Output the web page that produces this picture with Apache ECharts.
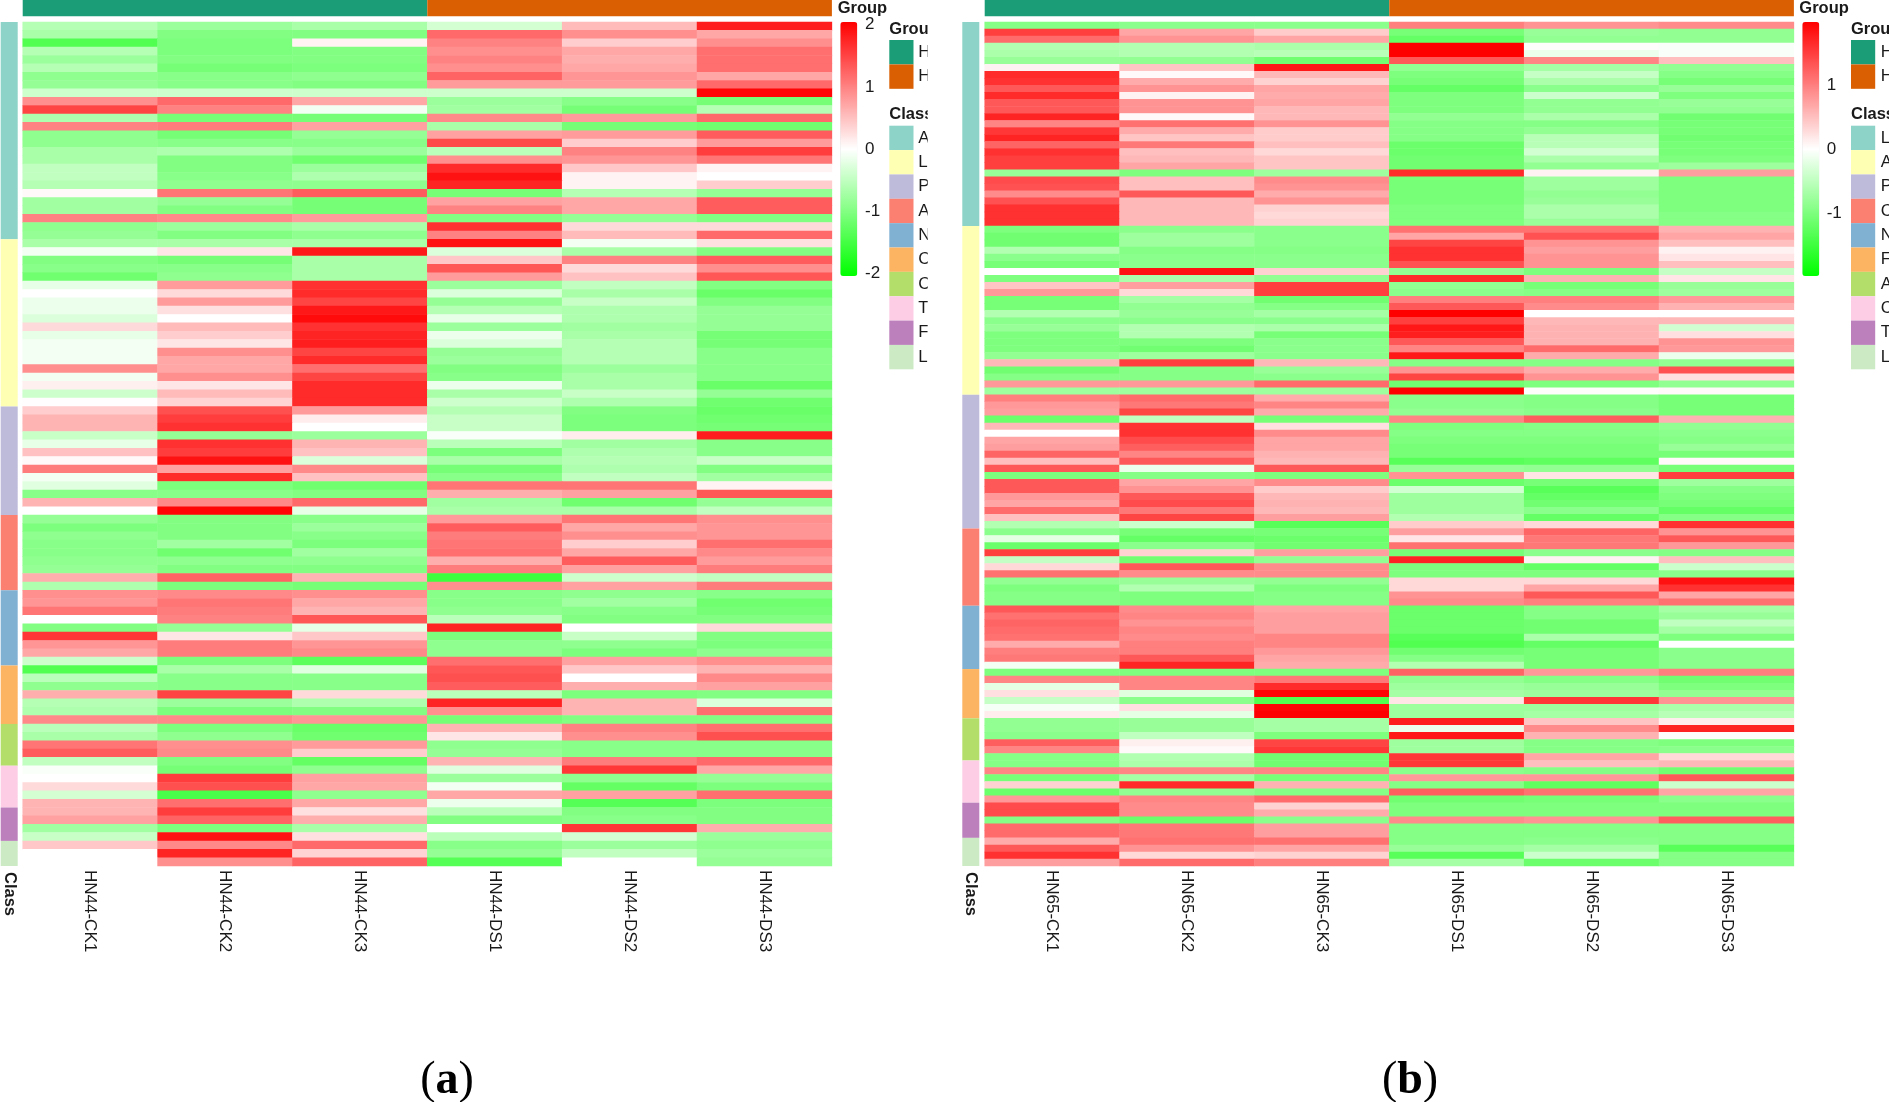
<!DOCTYPE html>
<html><head><meta charset="utf-8">
<style>html,body{margin:0;padding:0;background:#fff;overflow:hidden}#c{width:1889px;height:1102px}</style>
<script src="https://cdn.jsdelivr.net/npm/echarts@6/dist/echarts.min.js"></script>
</head><body><div id="c"></div>
<script>
const samplesA=['HN44-CK1','HN44-CK2','HN44-CK3','HN44-DS1','HN44-DS2','HN44-DS3'];
const samplesB=['HN65-CK1','HN65-CK2','HN65-CK3','HN65-DS1','HN65-DS2','HN65-DS3'];
const groupSizes=[3,3];
const groupLetters=['H','H'];
const classLettersA=['A','L','P','A','N','C','C','T','F','L'];
const classLettersB=['L','A','P','C','N','F','A','C','T','L'];
const classCountsA=[26,20,13,9,9,7,5,5,4,3];
const classCountsB=[29,24,19,11,9,7,6,6,5,4];
const ticksA=[2,1,0,-1,-2];
const ticksB=[1,0,-1];
const valuesA=[
[-0.6,-0.8,-0.7,-0.35,0.55,1.8],[-0.7,-1,-1,1.2,0.9,0.7],[-1.4,-1.05,0.1,1,0.4,0.9],[-0.6,-1.05,-1,0.9,0.7,1.15],[-0.8,-1,-1,1,0.65,1.15],[-0.6,-1.1,-1.05,0.9,0.7,1.15],[-0.9,-0.95,-0.9,1.25,0.85,0.7],[-0.85,-0.95,-1,0.8,0.8,1.2],[-0.4,-0.4,-0.4,-0.4,-0.4,2],[0.9,1.2,0.7,-0.8,-0.95,-1.1],
[1.5,1,-0.1,-0.75,-1.1,-0.6],[-0.65,-1.1,-1.1,0.95,0.8,1.2],[1,1.05,0.75,-0.7,-1.1,-1.15],[-0.9,-1.1,-0.85,0.75,0.8,1.3],[-0.9,-0.95,-0.95,1.45,0.4,0.8],[-0.7,-0.65,-0.8,-0.55,1,1.55],[-0.7,-1,-1.15,0.9,0.85,1.1],[-0.5,-1,-0.8,1.7,0.45,0.1],[-0.5,-0.95,-0.65,1.9,0.1,0],[-0.6,-0.9,-0.9,1.75,0.1,0.4],
[0.05,1.1,1.3,-1.1,-0.6,-0.85],[-0.75,-0.85,-1.1,0.75,0.7,1.3],[-0.75,-1,-1.1,1,0.7,1.3],[1,0.95,0.8,-1,-0.85,-1],[-0.9,-0.8,-0.7,1.65,0.3,0.3],[-0.85,-1,-0.9,1,0.55,1.2],[-0.7,-0.7,-0.7,1.9,-0.1,0.25],[-0.1,0.2,1.85,-0.3,-0.7,-1],[-1,-1.1,-0.7,0.45,1,1.3],[-0.95,-0.95,-0.7,1.35,0.3,0.9],
[-1.15,-0.9,-0.7,0.8,0.5,1.35],[-0.2,0.8,1.65,-0.8,-0.5,-1],[0,0.3,1.7,-0.3,-0.7,-1.2],[-0.15,0.8,1.5,-0.85,-0.45,-1],[-0.15,0.25,1.85,-0.6,-0.65,-0.85],[-0.3,0,1.95,-0.2,-0.65,-0.85],[0.3,0.55,1.65,-0.8,-0.75,-0.85],[-0.2,0.4,1.75,-0.15,-0.7,-1.1],[-0.1,0.2,1.8,-0.3,-0.6,-1.1],[-0.1,0.9,1.5,-0.85,-0.6,-0.95],
[-0.1,0.7,1.7,-0.8,-0.6,-0.95],[0.9,0.7,1.15,-1,-0.8,-0.95],[-0.1,0.9,1.5,-0.95,-0.7,-0.95],[0.12,0.2,1.7,-0.15,-0.7,-1.2],[-0.4,0.55,1.7,-0.7,-0.45,-0.85],[0.02,0.35,1.7,-0.4,-0.65,-1.15],[0.4,1.4,0.8,-0.6,-1,-1.2],[0.6,1.55,0.15,-0.45,-1.05,-1.15],[0.6,1.65,0,-0.45,-1.05,-1.1],[-0.45,-0.85,-0.8,-0.05,0.15,1.8],
[-0.2,1.65,0.6,-0.55,-0.75,-0.95],[0.5,1.55,0.5,-1.05,-0.65,-0.95],[0.05,1.9,-0.3,-0.7,-0.6,-0.45],[1.05,0.75,0.95,-1.1,-0.65,-1],[-0.1,1.7,0.5,-0.95,-0.5,-0.75],[-0.25,-1.05,-1.15,1.1,1.1,0.1],[-0.95,-0.95,-1,0.65,0.75,1.35],[0.6,0.95,1.2,-0.75,-1.15,-0.85],[0,2,-0.2,-0.7,-0.7,-0.5],[-0.85,-1,-0.95,0.8,1.1,0.9],
[-1.05,-1,-0.8,1.3,0.7,0.85],[-0.9,-1,-0.95,1.05,0.9,0.85],[-0.95,-0.75,-1.05,1.1,0.4,1.15],[-0.95,-1.15,-0.75,1.15,0.7,0.95],[-0.9,-0.9,-0.9,0.65,1.3,0.8],[-0.85,-1,-1,1.05,0.75,1.05],[0.65,1.25,0.6,-1.55,-0.4,-0.5],[-0.65,-1.05,-1.1,0.9,0.75,1.05],[0.9,0.95,0.9,-0.95,-0.9,-0.95],[0.85,1.1,0.7,-0.95,-0.75,-1.15],
[1.1,1.05,0.6,-0.9,-0.95,-1.1],[0,1,1.35,-0.55,-1,-1],[-1,-0.85,-0.2,1.75,0,0.3],[1.6,0.2,0.45,-1.05,-0.45,-1],[0.85,1.05,0.85,-0.9,-0.9,-1.05],[0.7,1.05,0.95,-0.9,-1.05,-0.9],[-0.4,-1.05,-1.3,1.15,0.75,0.9],[-1.4,-0.7,-0.25,1.35,0.45,0.6],[-0.55,-0.95,-0.95,1.4,0,0.95],[-0.9,-0.95,-0.95,1.3,0.65,0.75],
[0.65,1.5,0.3,-0.55,-1.05,-1],[-0.6,-0.8,-0.65,1.75,0.6,-0.3],[-0.65,-1.05,-1,0.9,0.6,1.15],[0.95,0.95,0.85,-1.1,-1,-1],[-0.55,-1.05,-1.2,0.6,1,1.15],[-0.7,-0.9,-1.15,0.2,0.9,1.4],[1.1,0.9,0.8,-0.9,-0.95,-0.95],[1.3,0.95,0.4,-0.85,-0.95,-0.95],[-0.5,-1,-1.25,0.6,1.05,1.2],[-0.05,-1.1,-0.9,-0.25,1.6,0.7],
[0,1.55,0.75,-0.8,-0.9,-0.85],[0.3,1.4,0.7,-0.1,-1.25,-1.05],[-0.35,-1.45,-0.9,0.7,0.75,1.15],[0.6,1.15,0.7,-0.15,-1.35,-1.05],[0.6,1.55,0.25,-0.55,-1,-1],[0.75,1.25,0.65,-1,-0.95,-1],[-0.75,-1.05,-0.7,0,1.6,0.65],[-0.45,1.9,0.25,-0.55,-0.35,-0.8],[0.45,0.95,1.2,-0.95,-0.8,-0.9],[0,1.75,0.35,-0.85,-0.5,-0.8],
[0,0.9,1.25,-1.35,0,-0.85]];
const valuesB=[
[-0.95,-0.9,-0.9,1,0.85,0.9],[1.5,0.7,0.4,-1.05,-0.8,-0.85],[1.15,0.85,0.7,-1.2,-0.85,-0.85],[-0.6,-0.6,-0.65,2,0.02,-0.05],[-0.65,-0.6,-0.55,2,-0.15,-0.05],[-0.8,-0.85,-1.1,1.3,0.95,0.5],[0.1,0.45,1.8,-0.85,-0.7,-0.85],[1.65,0.05,0.55,-1,-0.45,-0.95],[1.6,0.65,0.35,-1.05,-0.65,-1.05],[1.3,0.85,0.7,-1.2,-0.9,-0.8],
[1.65,0.1,0.65,-1,-0.4,-1],[1.3,0.85,0.7,-1,-0.85,-0.8],[1.3,0.85,0.55,-1,-0.85,-0.85],[1.7,0.05,0.55,-0.85,-0.65,-1.1],[0.95,1.1,0.85,-0.95,-0.95,-1.05],[1.55,0.65,0.4,-0.95,-0.85,-1.05],[1.7,0.45,0.4,-0.95,-0.55,-1.1],[1.2,1.05,0.5,-1.15,-0.55,-1.05],[1.6,0.5,0.3,-1.15,-0.35,-1.05],[1.5,0.55,0.45,-1.1,-0.65,-1],
[1.5,0.7,0.45,-1.1,-0.85,-0.75],[-0.8,-1,-0.75,1.65,0.1,0.75],[1.4,0.5,0.9,-1.05,-0.75,-1],[1.35,0.5,0.85,-1.05,-0.75,-1],[0.9,1.3,0.65,-1.05,-0.85,-1],[1.35,0.55,0.85,-1.05,-0.8,-1],[1.6,0.55,0.35,-1,-0.65,-1],[1.6,0.55,0.3,-1,-0.65,-0.95],[1.6,0.55,0.35,-1,-0.8,-0.95],[-1,-0.9,-0.9,1.1,1.1,0.6],
[-1.1,-0.75,-0.9,0.7,1.35,0.7],[-1.1,-0.75,-0.9,1.45,0.85,0.5],[-0.6,-0.95,-0.95,1.6,0.75,0.1],[-0.9,-0.9,-0.9,1.6,0.85,0.2],[-1.05,-0.9,-0.9,1.35,0.85,0.5],[0,1.85,0.35,-0.85,-1,-0.45],[-1,-0.65,-0.85,1.65,0.6,0.2],[0.45,0.75,1.5,-0.85,-1.05,-0.8],[0.8,0.3,1.5,-0.9,-0.95,-0.75],[-1.05,-0.7,-1.1,1,1,0.8],
[-1.05,-0.85,-0.95,1.3,0.9,0.6],[-0.6,-0.8,-0.7,2,0,0],[-0.9,-0.9,-0.9,1.5,0.55,0.55],[-0.8,-0.6,-0.65,1.8,0.6,-0.35],[-1,-0.6,-1.05,1.75,0.6,0.25],[-1,-1,-0.9,1.3,0.6,0.85],[-1,-1.1,-0.9,0.95,1.15,0.8],[-0.85,-0.75,-0.9,1.8,0.65,-0.15],[0.55,1.5,0.55,-0.95,-0.95,-0.85],[-1.1,-0.95,-0.8,0.85,0.65,1.35],
[-0.95,-0.95,-0.9,1.45,0.85,0.25],[0.8,0.8,1.15,-1.1,-1,-0.85],[-0.75,-0.75,-0.75,2,0.02,0.05],[1,1.15,0.65,-0.9,-0.95,-1.05],[0.8,1.05,0.95,-0.9,-0.95,-1.05],[0.75,1.45,0.65,-0.85,-0.9,-1.05],[-1.15,-0.5,-1.05,0.95,1.25,0.6],[0.55,1.6,0.25,-1,-0.95,-0.85],[0,1.6,0.9,-0.95,-0.95,-0.9],[0.7,1.4,0.7,-1,-1,-0.95],
[0.75,1.25,0.7,-1.05,-1.05,-0.8],[1.2,0.95,0.6,-1.05,-1.05,-1.05],[0.5,1.3,0.55,-1.3,-1.25,0.05],[1.3,-0.15,1.3,-0.8,-0.85,-1.05],[-1,-0.95,-1,0.85,0.2,1.5],[1.3,0.7,0.9,-1.15,-1.05,-0.75],[1.3,0.85,0.4,-0.35,-1.3,-0.95],[0.8,1.3,0.55,-0.75,-1.2,-1],[0.7,1.4,0.6,-0.75,-1.1,-1.05],[1.15,1.05,0.55,-0.75,-0.9,-1.2],
[0.5,1.45,0.75,-0.6,-1.2,-0.95],[-0.6,-0.4,-1.3,0.4,0.3,1.6],[-0.9,-1.05,-1.05,0.75,1.2,0.85],[-0.2,-1.2,-1.15,0.2,1.05,1.3],[-1.15,-0.9,-1.1,1.1,1.05,0.8],[1.5,0.35,0.75,-1.05,-0.9,-0.95],[-0.45,-1.1,-0.85,1.7,0.1,0.5],[0.3,1.3,0.9,-1,-1.2,-0.4],[1.1,0.9,0.9,-1,-1,-0.9],[-0.85,-0.8,-0.85,0.3,0.3,1.85],
[-1,-0.6,-1,0.3,0.7,1.6],[-0.95,-1,-0.95,0.85,1.3,0.7],[-0.95,-1,-0.95,0.9,1,1.1],[1.3,0.9,0.7,-1.15,-0.95,-0.7],[1.1,0.95,0.75,-1.15,-0.95,-0.8],[1.2,0.85,0.75,-1.15,-1.1,-0.5],[1.15,0.95,0.75,-1.15,-1.1,-0.7],[1.1,0.9,0.95,-1.3,-0.65,-1],[0.65,1,0.95,-1.35,-1.2,0],[1,1,0.8,-1.1,-1.05,-0.9],
[1.05,1.3,0.7,-0.95,-1.05,-0.9],[-0.1,1.7,0.65,-0.6,-1.05,-0.9],[-1,-1,-1,1.2,0.8,1],[0.95,0.95,1.05,-0.85,-0.95,-1.1],[-0.2,0.95,1.65,-0.75,-0.8,-1],[0.25,-0.25,1.95,-0.7,-0.75,-0.85],[-0.45,-0.9,-1.35,0.2,1.55,0.85],[-0.08,0.25,1.95,-0.75,-0.75,-0.65],[0.15,-0.2,2,-0.75,-0.7,-0.55],[-0.85,-0.8,-0.7,1.75,0.45,0.15],
[-0.85,-0.8,-0.7,-0.15,0.9,1.7],[-0.9,-0.5,-1,1.8,0.6,0.02],[1.25,0.12,1.45,-0.75,-0.95,-1],[0.95,0.05,1.55,-0.75,-0.95,-0.9],[-0.95,-0.6,-1.1,1.55,0.7,0.3],[-0.95,-0.65,-1.1,1.55,0.5,0.55],[0.95,0.95,0.95,-0.9,-0.95,-1.1],[-1.05,-0.7,-1.05,0.8,0.8,1.3],[0.35,1.65,0.6,-0.95,-1.25,-0.4],[-1.15,-0.85,-0.95,1.25,1.1,0.7],
[0.8,0.95,1.15,-1.1,-1.05,-0.9],[1.4,0.9,0.35,-1,-1,-1],[1.4,0.9,0.65,-1,-1,-1],[-0.95,-1.15,-0.9,0.9,0.85,1.25],[1.15,1.05,0.75,-0.95,-0.95,-0.95],[1.15,1.05,0.75,-0.95,-0.95,-0.95],[0.65,1.1,1.1,-0.95,-0.9,-0.95],[1.3,0.85,0.7,-0.8,-0.7,-1.3],[1.6,0.3,0.35,-1.3,-0.4,-0.95],[0.75,1.15,1,-0.7,-1.15,-0.95]];

const groupColors=['#1b9e77','#d95f02'];
const classColors=['#8dd3c7','#ffffb3','#bebada','#fb8072','#80b1d3','#fdb462','#b3de69','#fccde5','#bc80bd','#ccebc5'];
const FONT='"Liberation Sans",Arial,sans-serif';
const FS=17, FSB=16.5, TXT='#1a1a1a';

const panels=[
 {samples:samplesA,values:valuesA,counts:classCountsA,letters:classLettersA,ticks:ticksA,range:2.04,tickStep:62.25,
  heatLeft:22.7,classLeft:0.7,barLeft:840.3,title:837.7,tick:865,swatch:889.3,swText:918.3,label:'a',labelX:447},
 {samples:samplesB,values:valuesB,counts:classCountsB,letters:classLettersB,ticks:ticksB,range:1.98,tickStep:64,
  heatLeft:984.7,classLeft:962.3,barLeft:1802.3,title:1799.3,tick:1826.7,swatch:1851,swText:1880.7,label:'b',labelX:1410}
];
const HEAT_TOP=22,HEAT_H=844,HEAT_W=809.2,BAR_H=254;

const grid=[],xAxis=[],yAxis=[],series=[],visualMap=[],graphic=[];
const noAxis={axisLine:{show:false},axisTick:{show:false},axisLabel:{show:false},splitLine:{show:false}};

panels.forEach((p,i)=>{
  grid.push({left:p.heatLeft,top:HEAT_TOP,width:HEAT_W,height:HEAT_H});
  xAxis.push({gridIndex:i,type:'category',data:p.samples,position:'bottom',axisLine:{show:false},axisTick:{show:false},splitLine:{show:false},
    axisLabel:{interval:0,rotate:-90,margin:4,fontFamily:FONT,fontSize:FS,color:TXT}});
  yAxis.push(Object.assign({gridIndex:i,type:'category',inverse:true,data:p.values.map((_,r)=>r)},noAxis));
  const data=[];
  p.values.forEach((row,r)=>row.forEach((v,c)=>data.push([c,r,v])));
  series.push({type:'heatmap',xAxisIndex:i,yAxisIndex:i,data,progressive:0,animation:false,emphasis:{disabled:true},silent:true});
  visualMap.push({type:'continuous',seriesIndex:i,dimension:2,min:-p.range,max:p.range,calculable:false,realtime:false,hoverLink:false,
    inRange:{color:['#00ff00','#ffffff','#ff0000']},left:p.barLeft,top:HEAT_TOP,itemWidth:17,itemHeight:BAR_H,padding:0,text:null,showLabel:false,textStyle:{fontSize:0}});
});

panels.forEach((p,i)=>{
  const gi=2+i*2;
  grid.push({left:p.heatLeft,top:0,width:HEAT_W,height:16.3});
  xAxis.push(Object.assign({gridIndex:gi,type:'value',min:0,max:6},noAxis));
  yAxis.push(Object.assign({gridIndex:gi,type:'category',data:['Group']},noAxis));
  groupSizes.forEach((n,k)=>series.push({type:'bar',xAxisIndex:gi,yAxisIndex:gi,stack:'g'+i,data:[n],barWidth:'100%',silent:true,animation:false,itemStyle:{color:groupColors[k]}}));
  const ci=gi+1;
  const total=p.counts.reduce((a,b)=>a+b,0);
  grid.push({left:p.classLeft,top:HEAT_TOP,width:17,height:HEAT_H});
  xAxis.push({gridIndex:ci,type:'category',data:['Class'],position:'bottom',axisLine:{show:false},axisTick:{show:false},splitLine:{show:false},
    axisLabel:{interval:0,rotate:-90,margin:6,fontFamily:FONT,fontSize:FSB,fontWeight:'bold',color:TXT}});
  yAxis.push(Object.assign({gridIndex:ci,type:'value',inverse:true,min:0,max:total},noAxis));
  p.counts.forEach((n,k)=>series.push({type:'bar',xAxisIndex:ci,yAxisIndex:ci,stack:'c'+i,data:[n],barWidth:'100%',silent:true,animation:false,itemStyle:{color:classColors[k]}}));
});

function text(x,y,t,o){
  graphic.push({type:'text',x,y,silent:true,style:Object.assign({text:String(t),fill:TXT,font:FS+'px '+FONT,textVerticalAlign:'middle',textAlign:'left'},o||{})});
}
function box(x,y,w,h,c,z){
  graphic.push({type:'rect',silent:true,z:z||0,shape:{x,y,width:w,height:h},style:{fill:c}});
}
const BOLD='bold '+FSB+'px '+FONT;
panels.forEach(p=>{
  text(p.title,8,'Group',{font:BOLD});
  p.ticks.forEach(t=>text(p.tick,149.2-t*p.tickStep,t));
  text(p.swatch,29,'Grou',{font:BOLD});
  groupColors.forEach((c,k)=>{
    box(p.swatch,40+k*24.4,24.2,24.4,c);
    text(p.swText,52.2+k*24.4,groupLetters[k]);
  });
  text(p.swatch,114,'Class',{font:BOLD});
  classColors.forEach((c,k)=>{
    box(p.swatch,125.7+k*24.36,24.2,24.36,c);
    text(p.swText,137.9+k*24.36,p.letters[k]);
  });
  graphic.push({type:'text',x:p.labelX,y:1081,silent:true,style:{
    text:'{n|(}{b|'+p.label+'}{n|)}',textAlign:'center',textVerticalAlign:'middle',fill:'#000',
    rich:{n:{font:'46px "Liberation Serif",serif',fill:'#000'},b:{font:'bold 46px "Liberation Serif",serif',fill:'#000'}}}});
});
// the reference cuts the first panel's legend text off at this edge
box(927.7,20,30,360,'#ffffff',10);

const chart=echarts.init(document.getElementById('c'),null,{renderer:'canvas'});
chart.setOption({animation:false,backgroundColor:'#fff',tooltip:{show:false},grid,xAxis,yAxis,series,visualMap,graphic:{elements:graphic}});
</script></body></html>
